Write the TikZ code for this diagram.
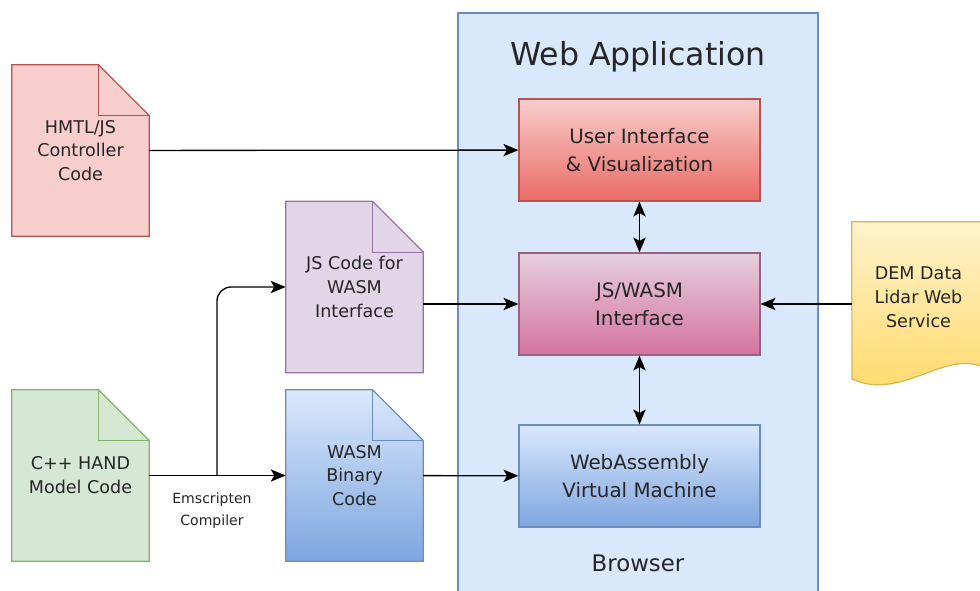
\documentclass[tikz,border=0pt]{standalone}
\usepackage{fontspec}
\setmainfont{DejaVu Sans}
\usetikzlibrary{positioning,arrows.meta,backgrounds}

\definecolor{redfill}{HTML}{F8CECC}
\definecolor{reddark}{HTML}{EA6B66}
\definecolor{redline}{HTML}{B85450}
\definecolor{purplefill}{HTML}{E1D5E7}
\definecolor{purpleline}{HTML}{9673A6}
\definecolor{pinkfill}{HTML}{E6D0DE}
\definecolor{pinkdark}{HTML}{D5739D}
\definecolor{pinkline}{HTML}{996185}
\definecolor{bluefill}{HTML}{DAE8FC}
\definecolor{bluedark}{HTML}{7EA6E0}
\definecolor{blueline}{HTML}{6C8EBF}
\definecolor{greenfill}{HTML}{D5E8D4}
\definecolor{greenline}{HTML}{82B366}
\definecolor{yellowfill}{HTML}{FFF2CC}
\definecolor{yellowdark}{HTML}{FFD966}
\definecolor{yellowline}{HTML}{D6B656}

% page outline with a folded corner, drawn round a named node
\newcommand{\fold}{1.02cm}
\newcommand{\pageshape}[3]{%
  \path[#2, draw=#3, line width=0.7pt] (#1.north west) -- ([xshift=-\fold]#1.north east)
    -- ([yshift=-\fold]#1.north east) -- (#1.south east) -- (#1.south west) -- cycle;
  \draw[#3, line width=0.7pt] ([xshift=-\fold]#1.north east) |- ([yshift=-\fold]#1.north east);
}

\tikzset{
  lbl/.style={font=\fontsize{10}{13.6}\selectfont, text=black!85, align=center},
  page/.style={lbl, minimum width=2.74cm, minimum height=3.42cm, inner sep=0pt},
  layer/.style={font=\fontsize{11.3}{15.9}\selectfont, text=black!85, align=center,
    draw, line width=0.7pt, minimum width=4.82cm, minimum height=2.04cm},
  link/.style={-{Stealth[length=8.5pt,width=7pt,inset=2pt]}, line width=0.75pt},
  dlink/.style={{Stealth[length=8.5pt,width=7pt,inset=2pt]}-{Stealth[length=8.5pt,width=7pt,inset=2pt]}, line width=0.75pt},
}

\begin{document}
\begin{tikzpicture}[x=0.02cm, y=-0.02cm]
\useasboundingbox (0,0) rectangle (980,591);

% browser frame
\node[draw=blueline, fill=bluefill, line width=0.7pt, minimum width=7.2cm, minimum height=11.88cm] (browser) at (638,310) {};
\node[font=\fontsize{18}{21}\selectfont, text=black!85] (webapp) at (638,57) {Web Application};
\node[font=\fontsize{13}{15}\selectfont, text=black!85] (browsertxt) at (638,563) {Browser};

% layers inside the browser
\node[layer, draw=redline, top color=redfill, bottom color=reddark] (ui) at (639.5,150) {User Interface\\\& Visualization};
\node[layer, draw=pinkline, top color=pinkfill, bottom color=pinkdark] (iface) at (639.5,304) {JS/WASM\\Interface};
\node[layer, draw=blueline, top color=bluefill, bottom color=bluedark] (vm) at (639.5,476) {WebAssembly\\Virtual Machine};

% source files
\node[page] (ctrl) at (80.5,150.5) {HMTL/JS\\Controller\\Code};
\node[page] (jsdoc) at (354.5,287) {JS Code for\\WASM\\Interface};
\node[page] (bin) at (354.5,475.5) {WASM\\Binary\\Code};
\node[page] (cpp) at (80.5,475.5) {C++ HAND\\Model Code};
\node[lbl, minimum width=2.66cm, minimum height=3cm, inner sep=0pt] (dem) at (918.5,297) {DEM Data\\Lidar Web\\Service};

\begin{scope}[on background layer]
  \pageshape{ctrl}{fill=redfill}{redline}
  \pageshape{jsdoc}{fill=purplefill}{purpleline}
  \pageshape{bin}{top color=bluefill, bottom color=bluedark}{blueline}
  \pageshape{cpp}{fill=greenfill}{greenline}
  \path[top color=yellowfill, bottom color=yellowdark, draw=yellowline, line width=0.7pt]
    (dem.north west) -- (dem.north east) -- (985,368)
    .. controls (945,348) and (902,402) .. (852,379) -- cycle;
\end{scope}

% connectors
\coordinate (split) at (217,475.5);
\draw[link] (ctrl) -- (ui);
\draw[link] (cpp) -- (bin);
\draw[link, rounded corners=8pt] (split) |- (jsdoc.west);
\draw[link] (jsdoc.east |- iface) -- (iface);
\draw[link] (bin) -- (vm);
\draw[link] (dem.west |- iface) -- (iface);
\draw[dlink] (ui) -- (iface);
\draw[dlink] (iface) -- (vm);
\node[font=\fontsize{8}{12.5}\selectfont, align=center, text=black!85] (emcc) at (212,511) {Emscripten\\Compiler};
\end{tikzpicture}
\end{document}
